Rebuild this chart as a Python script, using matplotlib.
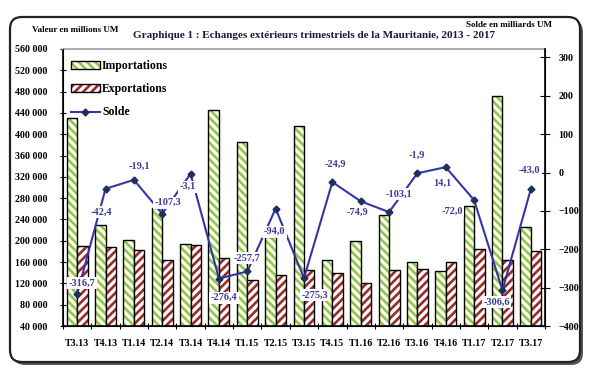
import matplotlib
matplotlib.use("Agg")
import matplotlib.pyplot as plt
from matplotlib.patches import FancyBboxPatch, Patch
from matplotlib.lines import Line2D
from matplotlib.transforms import IdentityTransform
import numpy as np

# data
trimestres = ["T3.13", "T4.13", "T1.14", "T2.14", "T3.14", "T4.14", "T1.15", "T2.15", "T3.15",
              "T4.15", "T1.16", "T2.16", "T3.16", "T4.16", "T1.17", "T2.17", "T3.17"]
importations = [431000, 230000, 201000, 262000, 194500, 445500, 386000, 208000, 415500,
                164500, 200000, 249000, 159500, 144000, 266000, 471000, 225000]
exportations = [189500, 187500, 183000, 164500, 191500, 167500, 125500, 135000, 145500,
                139500, 120500, 145500, 147500, 159500, 185000, 163000, 181500]
solde = [-316.7, -42.4, -19.1, -107.3, -3.1, -276.4, -257.7, -94.0, -275.3,
         -24.9, -74.9, -103.1, -1.9, 14.1, -72.0, -306.6, -43.0]

# label offsets for the solde values (pixels)
lab_dx = [5, -4, 6, 6, -3, 5, 0, -1, 11, 3, -3, 10, -1, -3, -22, -6, -1]
lab_dy = [11, -23, 14, 11, -13, -19, 13, -23, -17, 18, -11, 18, 18, -16, -11, -12, 19]

serif = "Liberation Serif"
plt.rcParams["font.family"] = serif
plt.rcParams["font.weight"] = "bold"
plt.rcParams["hatch.linewidth"] = 1.9

green = "#92c83e"
red = "#9b2a2a"
blue = "#3535a8"
txtblue = "#3c3c9c"

W, H = 600, 372
fig = plt.figure(figsize=(6, 3.72), dpi=100)

# rounded frame with shadow
shadow = FancyBboxPatch((13, 7), 570, 345, boxstyle="round,pad=0,rounding_size=12",
                        transform=IdentityTransform(), facecolor="#555555",
                        edgecolor="none", zorder=-3)
frame = FancyBboxPatch((10, 10), 570, 345, boxstyle="round,pad=0,rounding_size=12",
                       transform=IdentityTransform(), facecolor="white",
                       edgecolor="#222222", lw=1.6, zorder=-2)
fig.patches.extend([shadow, frame])

ax = fig.add_axes([63 / W, 1 - 326 / H, (545 - 63) / W, (326 - 49) / H])
ax.set_facecolor("none")
x = np.arange(len(trimestres))
bw = 0.37

ax.bar(x - bw, importations, width=bw, align="edge", facecolor="white",
       edgecolor=green, hatch="\\\\\\\\", lw=0)
ax.bar(x - bw, importations, width=bw, align="edge", fill=False, edgecolor="black", lw=1)
ax.bar(x, exportations, width=bw, align="edge", facecolor="white",
       edgecolor=red, hatch="////", lw=0)
ax.bar(x, exportations, width=bw, align="edge", fill=False, edgecolor="black", lw=1)

ax.set_xlim(-0.5, len(trimestres) - 0.5)
ax.set_ylim(40000, 560000)
ax.set_yticks(np.arange(40000, 560001, 40000))
ax.set_yticklabels([f"{v:,}".replace(",", " ") for v in range(40000, 560001, 40000)])
ax.tick_params(axis="y", labelsize=7.2, direction="inout", length=4, pad=9)
ax.set_xticks(np.arange(-0.5, len(trimestres), 1.0))
ax.set_xticklabels([])
ax.set_xticks(x, minor=True)
ax.set_xticklabels(trimestres, minor=True)
ax.tick_params(axis="x", which="major", direction="inout", length=4)
ax.tick_params(axis="x", which="minor", length=0, labelsize=7.2, pad=9)
ax.spines["top"].set_color("#b0b0b0")
ax.spines["top"].set_linewidth(1.5)
ax.spines["left"].set_linewidth(1.2)
ax.spines["bottom"].set_linewidth(1.2)

ax2 = ax.twinx()
ax2.set_ylim(-400, 322)
ax2.set_yticks(np.arange(-400, 301, 100))
ax2.tick_params(axis="y", labelsize=7.2, direction="inout", length=7, pad=6)
ax2.spines["right"].set_linewidth(1.2)
ax2.spines["top"].set_visible(False)
ax2.plot(x, solde, color=blue, lw=1.5, marker="D", ms=3.5,
         markerfacecolor="#1e2f60", markeredgecolor="#1e2f60", zorder=3)

for xi, v, dx, dy in zip(x, solde, lab_dx, lab_dy):
    ax2.annotate(f"{v:.1f}".replace(".", ","), (xi, v), xytext=(dx, dy),
                 textcoords="offset pixels", ha="center", va="center",
                 fontsize=7.5, color=txtblue, fontweight="bold", zorder=5,
                 bbox=dict(boxstyle="square,pad=0.15", fc="white", ec="none"))

outline = Patch(fill=False, edgecolor="black", lw=1)
handles = [(Patch(facecolor="white", edgecolor=green, hatch="\\\\\\\\", lw=0), outline),
           (Patch(facecolor="white", edgecolor=red, hatch="////", lw=0), outline),
           Line2D([], [], color=blue, lw=1.5, marker="D", ms=3.5,
                  markerfacecolor="#1e2f60", markeredgecolor="#1e2f60")]
ax2.legend(handles, ["Importations", "Exportations", "Solde"], loc="upper left",
           bbox_to_anchor=(0.0, 0.99), frameon=False, fontsize=8.5,
           handlelength=2.4, handleheight=0.6, labelspacing=0.95, handletextpad=0.2,
           borderaxespad=0.3)

fig.text(314 / W, 1 - 35 / H, "Graphique 1 : Echanges extérieurs trimestriels de la Mauritanie, 2013 - 2017",
         ha="center", va="center", fontsize=8, fontweight="bold", color="#1a1a3a")
fig.text(32 / W, 1 - 30 / H, "Valeur en millions UM", ha="left", va="center",
         fontsize=6.5, fontweight="bold")
fig.text(552 / W, 1 - 25 / H, "Solde en milliards UM", ha="right", va="center",
         fontsize=6.5, fontweight="bold")

fig.savefig("out.png", dpi=100)
